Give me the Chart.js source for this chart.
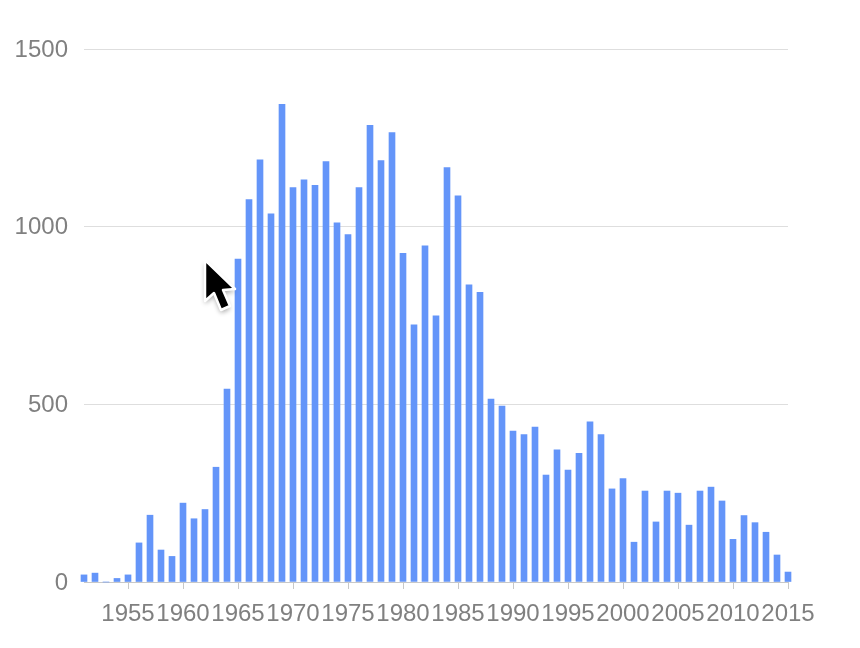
<!DOCTYPE html>
<html>
<head>
<meta charset="utf-8">
<style>
  html, body { margin: 0; padding: 0; background: #fff; overflow: hidden; }
  #wrap { position: relative; width: 860px; height: 648px; }
  #cursor { position: absolute; left: 200px; top: 255px; }
</style>
</head>
<body>
<div id="wrap">
  <canvas id="chart" width="860" height="648"></canvas>
  <!-- puntero del ratón que sale en la captura original -->
  <svg id="cursor" width="44" height="62" viewBox="0 0 44 62">
    <defs><filter id="sombra" x="-40%" y="-40%" width="180%" height="180%"><feGaussianBlur stdDeviation="2.5"/></filter></defs>
    <path d="M5 5 L5 46 L14 38 L21 55 L30 51 L23 35 L35 34 Z" fill="#000" opacity="0.35" filter="url(#sombra)" transform="translate(0 3)"/>
    <path d="M5 5 L5 46 L14 38 L21 55 L30 51 L23 35 L35 34 Z" fill="#000" stroke="#fff" stroke-width="2.5" stroke-linejoin="round"/>
  </svg>
</div>
<script src="https://cdn.jsdelivr.net/npm/chart.js@4"></script>
<script>
// años 1951-2015, uno por barra
const years = [
  1951, 1952, 1953, 1954, 1955, 1956, 1957, 1958, 1959, 1960,
  1961, 1962, 1963, 1964, 1965, 1966, 1967, 1968, 1969, 1970,
  1971, 1972, 1973, 1974, 1975, 1976, 1977, 1978, 1979, 1980,
  1981, 1982, 1983, 1984, 1985, 1986, 1987, 1988, 1989, 1990,
  1991, 1992, 1993, 1994, 1995, 1996, 1997, 1998, 1999, 2000,
  2001, 2002, 2003, 2004, 2005, 2006, 2007, 2008, 2009, 2010,
  2011, 2012, 2013, 2014, 2015,
];
// valores (estimados)
const counts = [
  20, 25, 0, 10, 20, 110, 188, 90, 72, 222,
  178, 204, 323, 543, 909, 1076, 1188, 1036, 1344, 1110,
  1132, 1116, 1183, 1011, 978, 1110, 1285, 1186, 1265, 925,
  724, 946, 749, 1166, 1087, 836, 815, 515, 495, 425,
  415, 436, 301, 372, 315, 362, 451, 415, 262, 291,
  112, 256, 169, 256, 250, 160, 256, 267, 228, 120,
  187, 167, 140, 76, 28,
];
const xTickYears = [1955, 1960, 1965, 1970, 1975, 1980, 1985, 1990, 1995, 2000, 2005, 2010, 2015];

const GRIS_TEXTO = '#808080';
const fuente = { family: '"Liberation Sans", Arial, sans-serif', size: 24 };

new Chart(document.getElementById('chart'), {
  type: 'bar',
  data: {
    labels: years,
    datasets: [{ data: counts, backgroundColor: '#6495F9', barThickness: 6, clip: false }],
  },
  options: {
    responsive: false,
    animation: false,
    layout: { padding: { top: 49, right: 72 } },
    plugins: { legend: { display: false }, tooltip: { enabled: false } },
    scales: {
      x: {
        offset: false,
        afterBuildTicks: (s) => { s.ticks = s.ticks.filter((t) => xTickYears.includes(years[t.value])); },
        afterFit: (s) => { s.height = 66; },
        grid: { offset: false, drawOnChartArea: false, drawTicks: true, tickLength: 7, color: '#c8c8c8' },
        border: { color: '#c8c8c8', width: 1 },
        ticks: { autoSkip: false, maxRotation: 0, color: GRIS_TEXTO, font: fuente, padding: 11 },
      },
      y: {
        min: 0,
        max: 1500,
        afterFit: (s) => { s.width = 84; },
        grid: { color: '#dedede', drawTicks: false },
        border: { display: false },
        ticks: { stepSize: 500, color: GRIS_TEXTO, font: fuente, padding: 16, labelOffset: 1, callback: (v) => String(v) },
      },
    },
  },
});
</script>
</body>
</html>
